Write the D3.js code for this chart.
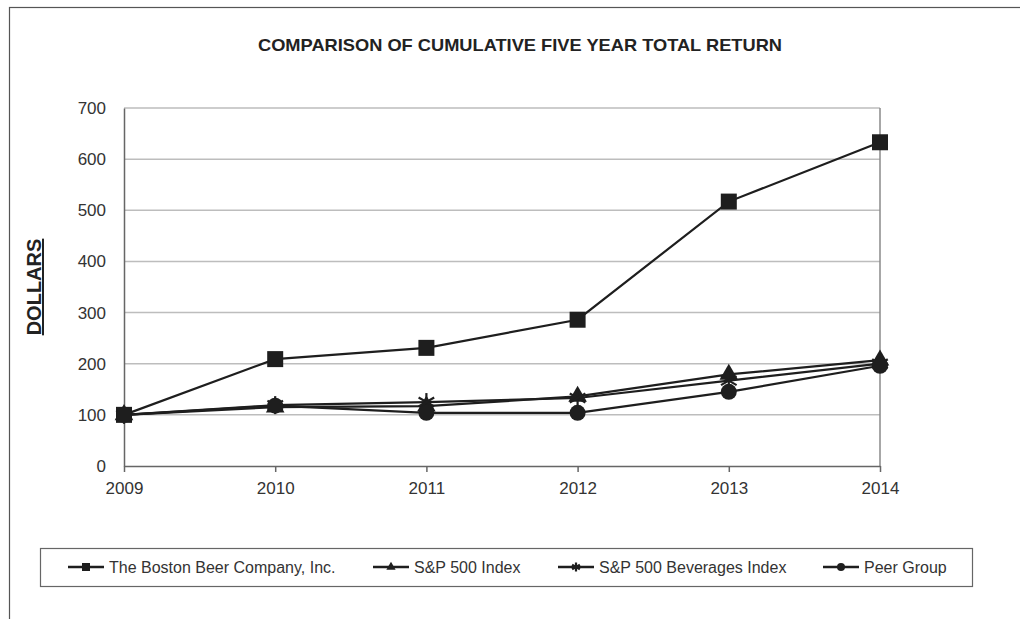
<!DOCTYPE html>
<html>
<head>
<meta charset="utf-8">
<title>Comparison of Cumulative Five Year Total Return</title>
<style>
	body { margin: 0; background: #fff; }
	svg { display: block; font-family: "Liberation Sans", Arial, sans-serif; }
</style>
</head>
<body>
<svg id="chart" width="1020" height="619"></svg>
<script src="https://cdnjs.cloudflare.com/ajax/libs/d3/7.8.5/d3.min.js"></script>
<script>
	// data
	var years = [2009, 2010, 2011, 2012, 2013, 2014];
	var bostonBeer = [100, 209, 231, 286, 517, 633];
	var sp500 = [100, 115, 117, 136, 179, 207];
	var spBeverages = [100, 119, 125, 133, 167, 200];
	var peerGroup = [100, 118, 104, 104, 145, 196];
	var yTicks = [0, 100, 200, 300, 400, 500, 600, 700];

	var series = [
		{ name: "The Boston Beer Company, Inc.", values: bostonBeer, marker: "square" },
		{ name: "S&P 500 Index", values: sp500, marker: "triangle" },
		{ name: "S&P 500 Beverages Index", values: spBeverages, marker: "asterisk" },
		{ name: "Peer Group", values: peerGroup, marker: "circle" }
	];

	var svg = d3.select("#chart");
	var ink = "#1e1e1e";

	// outer frame (only top and left edges are in view)
	svg.append("rect")
		.attr("x", 9.5).attr("y", 7.5)
		.attr("width", 1100).attr("height", 700)
		.attr("fill", "none")
		.attr("stroke", "#555")
		.attr("stroke-width", 1.2);

	svg.append("text")
		.attr("x", 520).attr("y", 51)
		.attr("text-anchor", "middle")
		.attr("font-weight", "bold")
		.attr("font-size", 17)
		.attr("textLength", 524)
		.attr("lengthAdjust", "spacingAndGlyphs")
		.attr("fill", "#222")
		.text("COMPARISON OF CUMULATIVE FIVE YEAR TOTAL RETURN");

	var plotLeft = 124, plotRight = 880, plotTop = 108, plotBottom = 466;

	var x = d3.scalePoint().domain(years).range([plotLeft, plotRight]);
	var y = d3.scaleLinear().domain([0, 700]).range([plotBottom, plotTop]);

	// gridlines
	svg.append("g")
		.selectAll("line")
		.data(yTicks.slice(1))
		.enter()
		.append("line")
		.attr("x1", plotLeft).attr("x2", plotRight)
		.attr("y1", function (d) { return y(d); })
		.attr("y2", function (d) { return y(d); })
		.attr("stroke", "#bdbdbd")
		.attr("stroke-width", 1.5);

	// right border
	svg.append("line")
		.attr("x1", plotRight).attr("x2", plotRight)
		.attr("y1", plotTop).attr("y2", plotBottom)
		.attr("stroke", "#8a8a8a")
		.attr("stroke-width", 1.5);

	// y axis
	var yAxis = svg.append("g")
		.attr("transform", "translate(" + plotLeft + ",0)")
		.call(d3.axisLeft(y).tickValues(yTicks).tickSize(0).tickPadding(18));
	yAxis.select(".domain").attr("stroke", "#666").attr("stroke-width", 1.5);
	yAxis.selectAll("text").attr("font-size", 17).attr("fill", "#333")
		.attr("font-family", "Liberation Sans, Arial, sans-serif");

	// x axis
	var xAxis = svg.append("g")
		.attr("transform", "translate(0," + plotBottom + ")")
		.call(d3.axisBottom(x).tickSizeInner(6).tickSizeOuter(0).tickPadding(10));
	xAxis.select(".domain").attr("stroke", "#666").attr("stroke-width", 1.5);
	xAxis.selectAll(".tick line").attr("stroke", "#666").attr("stroke-width", 1.5);
	xAxis.selectAll("text").attr("font-size", 17).attr("fill", "#333")
		.attr("font-family", "Liberation Sans, Arial, sans-serif");

	// axis title
	svg.append("text")
		.attr("transform", "translate(41,287) rotate(-90)")
		.attr("text-anchor", "middle")
		.attr("font-weight", "bold")
		.attr("font-size", 20)
		.attr("fill", "#222")
		.attr("text-decoration", "underline")
		.text("DOLLARS");

	function drawMarker(g, type, cx, cy, s) {
		switch (type) {
			case "square":
				g.append("rect")
					.attr("x", cx - 8 * s).attr("y", cy - 8 * s)
					.attr("width", 16 * s).attr("height", 16 * s)
					.attr("fill", ink);
				break;
			case "triangle":
				g.append("path")
					.attr("d", d3.symbol().type(d3.symbolTriangle).size(150 * s * s)())
					.attr("transform", "translate(" + cx + "," + cy + ")")
					.attr("fill", ink);
				break;
			case "asterisk":
				var r = 9 * s;
				[0, 60, 120].forEach(function (a) {
					var rad = a * Math.PI / 180;
					g.append("line")
						.attr("x1", cx - r * Math.sin(rad)).attr("y1", cy - r * Math.cos(rad))
						.attr("x2", cx + r * Math.sin(rad)).attr("y2", cy + r * Math.cos(rad))
						.attr("stroke", ink).attr("stroke-width", 2.2);
				});
				break;
			case "circle":
				g.append("circle")
					.attr("cx", cx).attr("cy", cy).attr("r", 8 * s)
					.attr("fill", ink);
				break;
		}
	}

	var line = d3.line()
		.x(function (d, i) { return x(years[i]); })
		.y(function (d) { return y(d); });

	var plot = svg.append("g");
	series.forEach(function (s) {
		plot.append("path")
			.datum(s.values)
			.attr("d", line)
			.attr("fill", "none")
			.attr("stroke", ink)
			.attr("stroke-width", 2.2);
	});
	series.forEach(function (s) {
		var g = plot.append("g");
		s.values.forEach(function (v, i) {
			drawMarker(g, s.marker, x(years[i]), y(v), 1);
		});
	});

	// legend
	svg.append("rect")
		.attr("x", 40.5).attr("y", 548.5)
		.attr("width", 932).attr("height", 38)
		.attr("fill", "none")
		.attr("stroke", "#666")
		.attr("stroke-width", 1.2);

	var legendX = [68, 373, 558, 823];
	series.forEach(function (s, i) {
		var g = svg.append("g");
		var lx = legendX[i];
		g.append("line")
			.attr("x1", lx).attr("x2", lx + 36)
			.attr("y1", 567).attr("y2", 567)
			.attr("stroke", ink).attr("stroke-width", 2.5);
		drawMarker(g, s.marker, lx + 18, 567, 0.5);
		g.append("text")
			.attr("x", lx + 41).attr("y", 572.5)
			.attr("font-size", 16)
			.attr("fill", "#333")
			.text(s.name);
	});
</script>
</body>
</html>
